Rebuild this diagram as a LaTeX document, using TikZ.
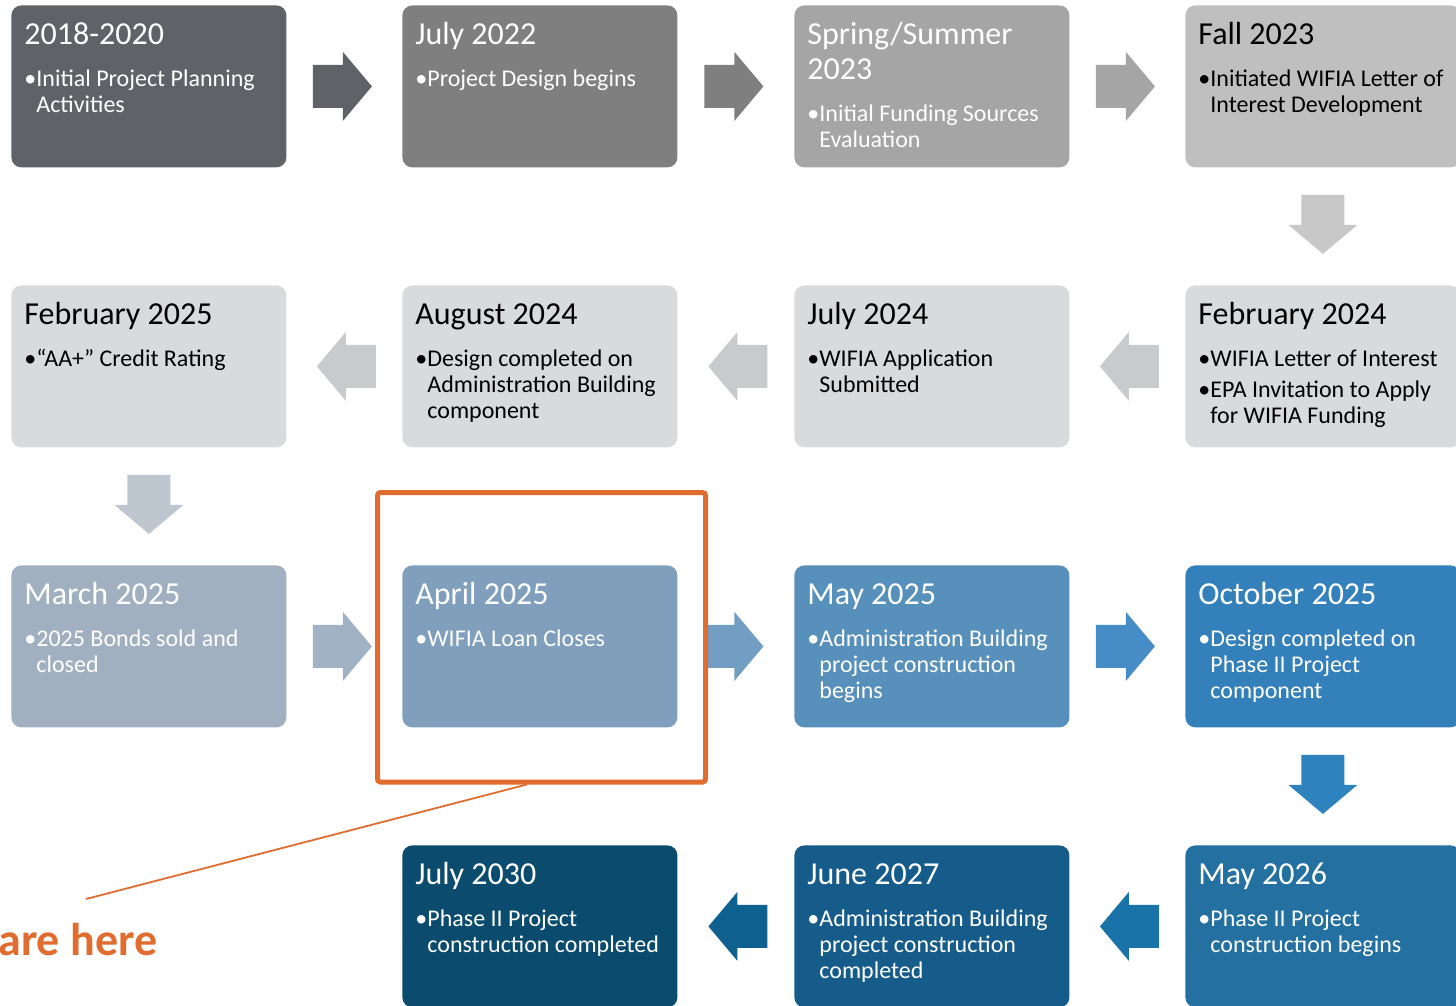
\documentclass[tikz,border=0pt]{standalone}
\usepackage{fontspec}
\setmainfont{Carlito}
\usetikzlibrary{calc}

\definecolor{boxA}{HTML}{5F6266}
\definecolor{boxB}{HTML}{7F7F7F}
\definecolor{boxC}{HTML}{A5A5A5}
\definecolor{boxD}{HTML}{BFBFBF}
\definecolor{boxLight}{HTML}{D9DADB}
\definecolor{arrLight}{HTML}{C8CACC}
\definecolor{arrDownA}{HTML}{C8C8C8}
\definecolor{arrDownB}{HTML}{BEC6D0}
\definecolor{boxE}{HTML}{A1B0C0}
\definecolor{boxF}{HTML}{7F9FBD}
\definecolor{boxG}{HTML}{5890BC}
\definecolor{boxH}{HTML}{3480BA}
\definecolor{arrE}{HTML}{A0B2C4}
\definecolor{arrF}{HTML}{739EC4}
\definecolor{arrG}{HTML}{468DC8}
\definecolor{arrH}{HTML}{2E82BE}
\definecolor{boxI}{HTML}{2370A1}
\definecolor{boxJ}{HTML}{165C8A}
\definecolor{boxK}{HTML}{0A4B6E}
\definecolor{arrI}{HTML}{1972A8}
\definecolor{arrJ}{HTML}{0E608F}
\definecolor{hereOrange}{HTML}{E06D2F}

\newcommand\stageText[2]{\parbox[c][81pt][t]{124.5pt}{\lineskiplimit=-20pt\rightskip=0pt plus 1fil
  \fontsize{16}{17.5}\selectfont\rule{0pt}{19.5pt}#1\par
  \fontsize{12}{13}\selectfont\vspace{5.5pt}#2}}
\newcommand\bul[1]{\par\vspace{2.5pt}\hangindent=6pt\hangafter=1\noindent\makebox[6pt][l]{\textbullet}#1}

\begin{document}
\begin{tikzpicture}[x=0.5pt, y=-0.5pt,
  stageBox/.style={fill=#1, rounded corners=5pt, inner xsep=6.5pt, inner ysep=0pt, anchor=north west, minimum width=137.5pt, minimum height=81pt},
  onDark/.style={text=white},
  pics/blockArrow/.style={code={\fill (-29.5,-21.5) -- (0.5,-21.5) -- (0.5,-34.5) -- (29.5,0) -- (0.5,34.5) -- (0.5,21.5) -- (-29.5,21.5) -- cycle;}}
]
\useasboundingbox (0,0) rectangle (1456,1006);

\node [stageBox=boxA, onDark] (s11) at (11,5)   {\stageText{2018-2020}{\bul{Initial Project Planning\newline Activities}}};
\node [stageBox=boxB, onDark] (s12) at (402,5)  {\stageText{July 2022}{\bul{Project Design begins}}};
\node [stageBox=boxC, onDark] (s13) at (794,5)  {\stageText{Spring/Summer\newline 2023}{\bul{Initial Funding Sources\newline Evaluation}}};
\node [stageBox=boxD]         (s14) at (1185,5) {\stageText{Fall 2023}{\bul{Initiated WIFIA Letter of\newline Interest Development}}};

\node [stageBox=boxLight] (s21) at (11,285)   {\stageText{February 2025}{\bul{“AA+” Credit Rating}}};
\node [stageBox=boxLight] (s22) at (402,285)  {\stageText{August 2024}{\bul{Design completed on\newline Administration Building\newline component}}};
\node [stageBox=boxLight] (s23) at (794,285)  {\stageText{July 2024}{\bul{WIFIA Application\newline Submitted}}};
\node [stageBox=boxLight] (s24) at (1185,285) {\stageText{February 2024}{\bul{WIFIA Letter of Interest}\bul{EPA Invitation to Apply\newline for WIFIA Funding}}};

\node [stageBox=boxE, onDark] (s31) at (11,565)   {\stageText{March 2025}{\bul{2025 Bonds sold and\newline closed}}};
\node [stageBox=boxF, onDark] (s32) at (402,565)  {\stageText{April 2025}{\bul{WIFIA Loan Closes}}};
\node [stageBox=boxG, onDark] (s33) at (794,565)  {\stageText{May 2025}{\bul{Administration Building\newline project construction\newline begins}}};
\node [stageBox=boxH, onDark] (s34) at (1185,565) {\stageText{October 2025}{\bul{Design completed on\newline Phase II Project\newline component}}};

\node [stageBox=boxK, onDark] (s42) at (402,845)  {\stageText{July 2030}{\bul{Phase II Project\newline construction completed}}};
\node [stageBox=boxJ, onDark] (s43) at (794,845)  {\stageText{June 2027}{\bul{Administration Building\newline project construction\newline completed}}};
\node [stageBox=boxI, onDark] (s44) at (1185,845) {\stageText{May 2026}{\bul{Phase II Project\newline construction begins}}};

\pic [fill=boxA] at ($(s11.east)!0.5!(s12.west)+(-2,0)$) {blockArrow};
\pic [fill=boxB] at ($(s12.east)!0.5!(s13.west)+(-2,0)$) {blockArrow};
\pic [fill=boxC] at ($(s13.east)!0.5!(s14.west)+(-2,0)$) {blockArrow};
\pic [fill=arrDownA, rotate=-90] at ($(s14.south)!0.5!(s24.north)+(0,-2)$) {blockArrow};

\pic [fill=arrLight, rotate=180] at ($(s24.west)!0.5!(s23.east)+(2,0)$) {blockArrow};
\pic [fill=arrLight, rotate=180] at ($(s23.west)!0.5!(s22.east)+(2,0)$) {blockArrow};
\pic [fill=arrLight, rotate=180] at ($(s22.west)!0.5!(s21.east)+(2,0)$) {blockArrow};
\pic [fill=arrDownB, rotate=-90] at ($(s21.south)!0.5!(s31.north)+(0,-2)$) {blockArrow};

\pic [fill=arrE] at ($(s31.east)!0.5!(s32.west)+(-2,0)$) {blockArrow};
\pic [fill=arrF] at ($(s32.east)!0.5!(s33.west)+(-2,0)$) {blockArrow};
\pic [fill=arrG] at ($(s33.east)!0.5!(s34.west)+(-2,0)$) {blockArrow};
\pic [fill=arrH, rotate=-90] at ($(s34.south)!0.5!(s44.north)+(0,-2)$) {blockArrow};

\pic [fill=arrI, rotate=180] at ($(s44.west)!0.5!(s43.east)+(2,0)$) {blockArrow};
\pic [fill=arrJ, rotate=180] at ($(s43.west)!0.5!(s42.east)+(2,0)$) {blockArrow};

\node [draw=hereOrange, line width=2.5pt, rounded corners=1.5pt, minimum width=164pt, minimum height=144.75pt, inner sep=0pt] (marker) at (541.5,637.25) {};
\node [text=hereOrange, font=\fontsize{23}{27}\selectfont\bfseries, inner sep=0pt, anchor=base west] (hereLabel) at (-2,955) {are here};
\coordinate (hereTail) at (86,899);
\draw [hereOrange, line width=0.9pt] ($(marker.south west)!0.456!(marker.south east)$) -- (hereTail);
\end{tikzpicture}
\end{document}
